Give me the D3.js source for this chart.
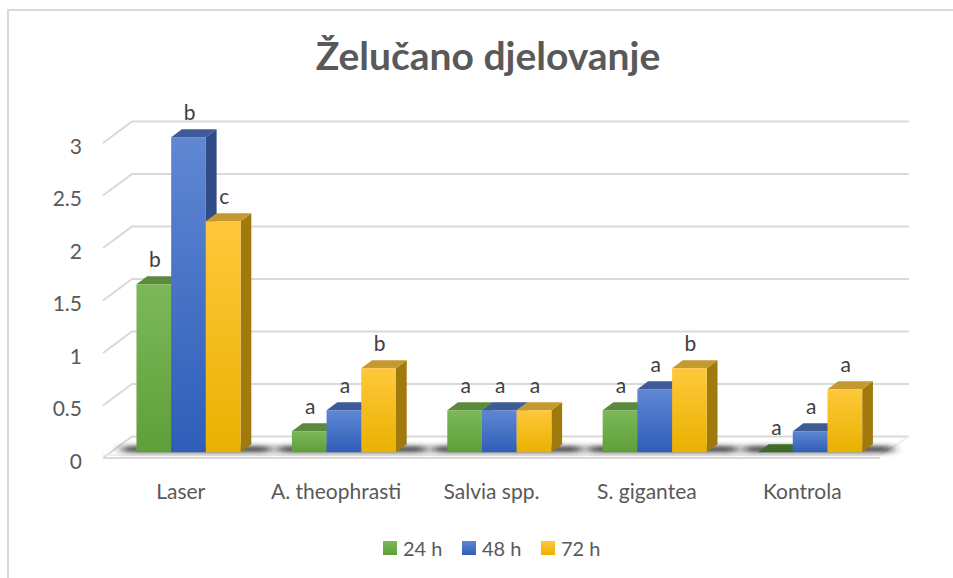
<!DOCTYPE html>
<html>
<head>
  <meta http-equiv="Content-Type" content="text/html;charset=utf-8" />
  <style type="text/css">
    body { margin: 0; background: #fff; }
    text { font-family: Lato, "Open Sans", sans-serif; fill: #595959; }
  </style>
</head>
<body>
  <div id="svgContainer"></div>
  <script src="https://d3js.org/d3.v7.min.js"></script>
  <script type="text/javascript">
    var categories = ["Laser", "A. theophrasti", "Salvia spp.", "S. gigantea", "Kontrola"];
    var seriesNames = ["24 h", "48 h", "72 h"];
    var values24 = [1.6, 0.2, 0.4, 0.4, 0];
    var values48 = [3.0, 0.4, 0.4, 0.6, 0.2];
    var values72 = [2.2, 0.8, 0.4, 0.8, 0.6];
    var letters24 = ["b", "a", "a", "a", "a"];
    var letters48 = ["b", "a", "a", "a", "a"];
    var letters72 = ["c", "b", "a", "b", "a"];
    var yTicks = [0, 0.5, 1, 1.5, 2, 2.5, 3];
    var yTickLabels = ["0", "0.5", "1", "1.5", "2", "2.5", "3"];

    var w = 953, h = 578;
    // 3d depth offsets (full depth of the plot box)
    var depthX = 29, depthY = -21.5;
    var barDepth0 = 0.27, barDepth1 = 0.64;

    var colors = [
      { top: "#7cb85a", bottom: "#5f9f38", cap: "#5b8a3e", side: "#4a7430" },
      { top: "#5f87d2", bottom: "#2f5eb9", cap: "#3f5b97", side: "#304b85" },
      { top: "#ffc83b", bottom: "#e9b100", cap: "#c49930", side: "#a07a0d" }
    ];

    var svg = d3.select("#svgContainer")
      .append("svg")
      .attr("width", w)
      .attr("height", h);

    var defs = svg.append("defs");
    colors.forEach(function (c, i) {
      var g = defs.append("linearGradient")
        .attr("id", "grad" + i)
        .attr("x1", 0).attr("y1", 0).attr("x2", 0).attr("y2", 1);
      g.append("stop").attr("offset", "0%").attr("stop-color", c.top);
      g.append("stop").attr("offset", "100%").attr("stop-color", c.bottom);
    });
    defs.append("filter").attr("id", "blur")
      .attr("x", "-30%").attr("y", "-200%").attr("width", "160%").attr("height", "500%")
      .append("feGaussianBlur").attr("stdDeviation", "6 2.5");

    // frame
    svg.append("path")
      .attr("d", "M8,578 L8,10 L953,10")
      .attr("fill", "none")
      .attr("stroke", "#d9d9d9")
      .attr("stroke-width", 2);

    // title
    svg.append("text")
      .attr("x", 488)
      .attr("y", 70)
      .attr("text-anchor", "middle")
      .style("font-size", "39px")
      .style("font-weight", "bold")
      .text("Želučano djelovanje");

    var xScale = d3.scaleBand().domain(categories).range([103, 880])
      .paddingInner(0.33).paddingOuter(0.165);
    var xStep = d3.scaleBand().domain(categories).range([103, 880]);
    var x1 = d3.scaleBand().domain(seriesNames).range([0, xScale.bandwidth()]);
    var yScale = d3.scaleLinear().domain([0, 3]).range([458, 143]);

    // gridlines (left wall diagonal + back wall horizontal)
    var grid = svg.append("g");
    grid.selectAll("path")
      .data(yTicks)
      .enter()
      .append("path")
      .attr("d", function (d) {
        var yf = yScale(d);
        return "M103," + yf + " L" + (103 + depthX) + "," + (yf + depthY) +
          " L" + (880 + depthX) + "," + (yf + depthY);
      })
      .attr("fill", "none")
      .attr("stroke", "#d9d9d9")
      .attr("stroke-width", 2);

    // floor front edge
    svg.append("line")
      .attr("x1", 103).attr("x2", 880)
      .attr("y1", yScale(0)).attr("y2", yScale(0))
      .attr("stroke", "#d9d9d9")
      .attr("stroke-width", 2);
    svg.append("path")
      .attr("d", "M103," + (yScale(0) - 3) + " L880," + (yScale(0) - 3) + " L" + (880 + depthX) + "," + (yScale(0) + depthY))
      .attr("fill", "none")
      .attr("stroke", "#ececec")
      .attr("stroke-width", 1.5);

    // y tick labels
    svg.append("g").selectAll("text")
      .data(yTicks)
      .enter()
      .append("text")
      .attr("x", 82)
      .attr("y", function (d) { return yScale(d) + 2; })
      .attr("text-anchor", "end")
      .attr("dominant-baseline", "central")
      .style("font-size", "21px")
      .text(function (d, i) { return yTickLabels[i]; });

    // category labels
    svg.append("g").selectAll("text")
      .data(categories)
      .enter()
      .append("text")
      .attr("x", function (d) { return xStep(d) + xStep.bandwidth() / 2; })
      .attr("y", 490)
      .attr("text-anchor", "middle")
      .attr("dominant-baseline", "central")
      .style("font-size", "21px")
      .text(function (d) { return d; });

    var ox0 = depthX * barDepth0, oy0 = depthY * barDepth0;
    var bdx = depthX * (barDepth1 - barDepth0), bdy = depthY * (barDepth1 - barDepth0);

    // shadows on the floor
    svg.append("g").selectAll("rect")
      .data(categories)
      .enter()
      .append("rect")
      .attr("x", function (d) { return xScale(d) + ox0 - 14; })
      .attr("y", yScale(0) + oy0 - 6)
      .attr("width", xScale.bandwidth() + 44)
      .attr("height", 6)
      .attr("fill", "#222")
      .attr("opacity", 0.9)
      .attr("filter", "url(#blur)");

    var allValues = [values24, values48, values72];
    var allLetters = [letters24, letters48, letters72];

    var bars = [];
    categories.forEach(function (c, ci) {
      seriesNames.forEach(function (s, si) {
        bars.push({ cat: c, s: s, si: si, v: allValues[si][ci], letter: allLetters[si][ci] });
      });
    });

    var barG = svg.append("g").selectAll("g")
      .data(bars)
      .enter()
      .append("g");

    function bx(d) { return xScale(d.cat) + x1(d.s) + ox0; }
    function bTop(d) { return yScale(d.v) + oy0; }
    var base = yScale(0) + oy0;
    var bw = x1.bandwidth();

    // side face
    barG.append("path")
      .attr("d", function (d) {
        var x = bx(d) + bw, t = bTop(d);
        return "M" + x + "," + base + " L" + x + "," + t + " L" + (x + bdx) + "," + (t + bdy) +
          " L" + (x + bdx) + "," + (base + bdy) + "Z";
      })
      .attr("fill", function (d) { return colors[d.si].side; });
    // top face
    barG.append("path")
      .attr("d", function (d) {
        var x = bx(d), t = bTop(d);
        return "M" + x + "," + t + " L" + (x + bw) + "," + t + " L" + (x + bw + bdx) + "," + (t + bdy) +
          " L" + (x + bdx) + "," + (t + bdy) + "Z";
      })
      .attr("fill", function (d) { return d.v === 0 ? "#3f6b2a" : colors[d.si].cap; });
    // front face
    barG.append("rect")
      .attr("x", function (d) { return bx(d); })
      .attr("y", function (d) { return bTop(d); })
      .attr("width", bw)
      .attr("height", function (d) { return base - bTop(d); })
      .attr("fill", function (d) { return "url(#grad" + d.si + ")"; });

    // data labels
    svg.append("g").selectAll("text")
      .data(bars)
      .enter()
      .append("text")
      .attr("x", function (d) { return bx(d) + bw / 2 + 1; })
      .attr("y", function (d) { return bTop(d) - 17; })
      .attr("text-anchor", "middle")
      .style("font-size", "21px")
      .style("fill", "#404040")
      .text(function (d) { return d.letter; });

    // legend
    var legend = svg.append("g").selectAll("g")
      .data(seriesNames)
      .enter()
      .append("g")
      .attr("transform", function (d, i) { return "translate(" + (383 + i * 79) + ",541)"; });
    legend.append("rect")
      .attr("width", 14).attr("height", 14)
      .attr("fill", function (d, i) { return "url(#grad" + i + ")"; });
    legend.append("text")
      .attr("x", 20)
      .attr("y", 7)
      .attr("dominant-baseline", "central")
      .style("font-size", "20px")
      .text(function (d) { return d; });
  </script>
</body>
</html>
